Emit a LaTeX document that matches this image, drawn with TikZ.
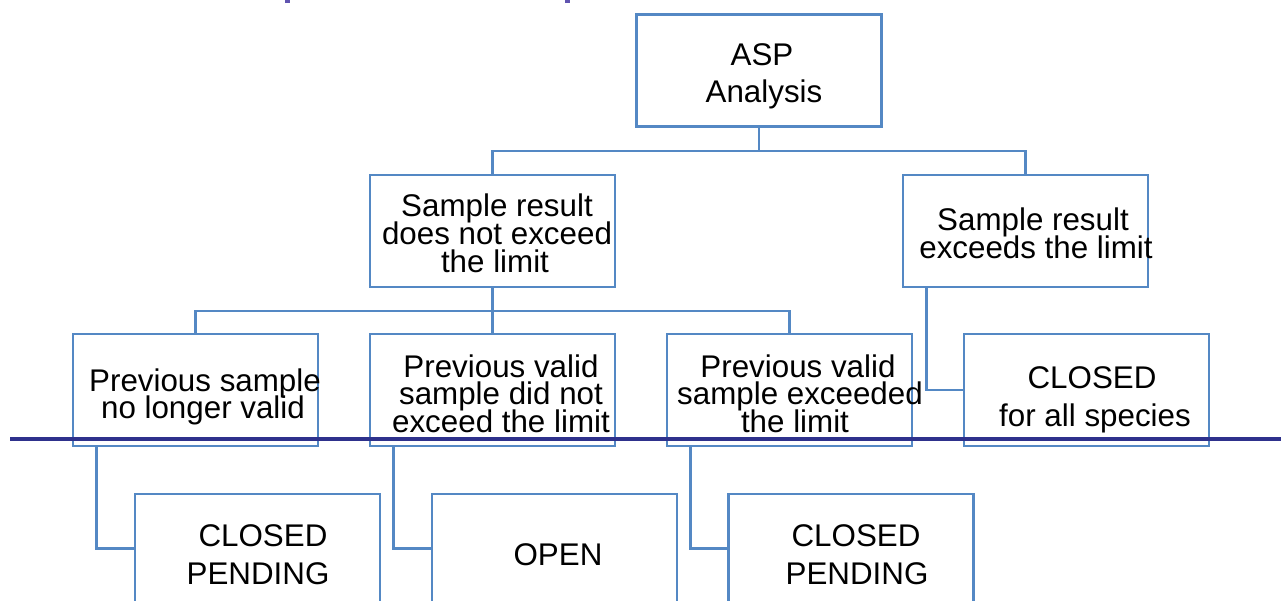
\documentclass[tikz,border=0pt]{standalone}
\usepackage{fontspec}
\setmainfont{Liberation Sans}
\definecolor{boxblue}{RGB}{84,136,196}
\definecolor{navy}{RGB}{46,49,140}
\definecolor{titlepurple}{RGB}{96,84,176}
\tikzset{
  box/.style={draw=boxblue, line width=1.9pt, fill=white, inner sep=0pt,
    minimum width=183.75pt, minimum height=84pt},
  lowbox/.style={box, minimum height=105pt},
  link/.style={draw=boxblue, line width=1.9pt},
  txt/.style={anchor=base, inner sep=0pt, font=\fontsize{23.5pt}{28pt}\selectfont},
}
\begin{document}
\begin{tikzpicture}[x=0.75pt, y=-0.75pt]
\clip (0,0) rectangle (1281,600);
\useasboundingbox (0,0) rectangle (1281,600);

% remnants of the heading above the frame
\fill[titlepurple] (285,0) rectangle (290,3);
\fill[titlepurple] (565,0) rectangle (570,3);

% boxes
\node[box] (asp) at (759,70.5) {};
\node[box] (ok)  at (492.5,231) {};
\node[box] (exc) at (1025.5,231) {};
\node[box] (p1) at (195.5,390) {};
\node[box] (p2) at (492.5,390) {};
\node[box] (p3) at (789.5,390) {};
\node[box] (cl) at (1086.5,390) {};
\node[lowbox] (q1) at (257.5,564) {};
\node[lowbox] (q2) at (554.5,564) {};
\node[lowbox] (q3) at (851,564) {};

% connectors
\coordinate (bus1) at (759,151);
\coordinate (bus2) at (492.5,311);
\draw[link] (asp.south) -- (bus1);
\draw[link] (ok.north) |- (bus1) -| (exc.north);
\draw[link] (ok.south) -- (p2.north);
\draw[link] (p1.north) |- (bus2) -| (p3.north);
\draw[link] ([xshift=18.75pt]exc.south west) |- (cl.west);
\draw[link] ([xshift=18.75pt]p1.south west) |- ([yshift=-42pt]q1.north west);
\draw[link] ([xshift=18.75pt]p2.south west) |- ([yshift=-42pt]q2.north west);
\draw[link] ([xshift=18.75pt]p3.south west) |- ([yshift=-42pt]q3.north west);

% labels
\node[txt] (asp1) at (762,65) {ASP};
\node[txt] (asp2) at (764,102) {Analysis};
\node[txt] (ok1) at (497,216) {Sample result};
\node[txt] (ok2) at (497,244) {does not exceed};
\node[txt] (ok3) at (495,272) {the limit};
\node[txt] (exc1) at (1033,230) {Sample result};
\node[txt] (exc2) at (1036,258) {exceeds the limit};
\node[txt] (p11) at (205,391) {Previous sample};
\node[txt] (p12) at (203,418) {no longer valid};
\node[txt] (p21) at (501,377) {Previous valid};
\node[txt] (p22) at (501,404) {sample did not};
\node[txt] (p23) at (501,432) {exceed the limit};
\node[txt] (p31) at (798,377) {Previous valid};
\node[txt] (p32) at (800,404) {sample exceeded};
\node[txt] (p33) at (795,432) {the limit};
\node[txt] (cl1) at (1092,388) {CLOSED};
\node[txt] (cl2) at (1095,426) {for all species};
\node[txt] (q11) at (263,546) {CLOSED};
\node[txt] (q12) at (258,584) {PENDING};
\node[txt] (q21) at (558,565) {OPEN};
\node[txt] (q31) at (856,546) {CLOSED};
\node[txt] (q32) at (857,584) {PENDING};

% divider rule
\draw[navy, line width=2.3pt] (10,439) -- (1281,439);
\end{tikzpicture}
\end{document}
